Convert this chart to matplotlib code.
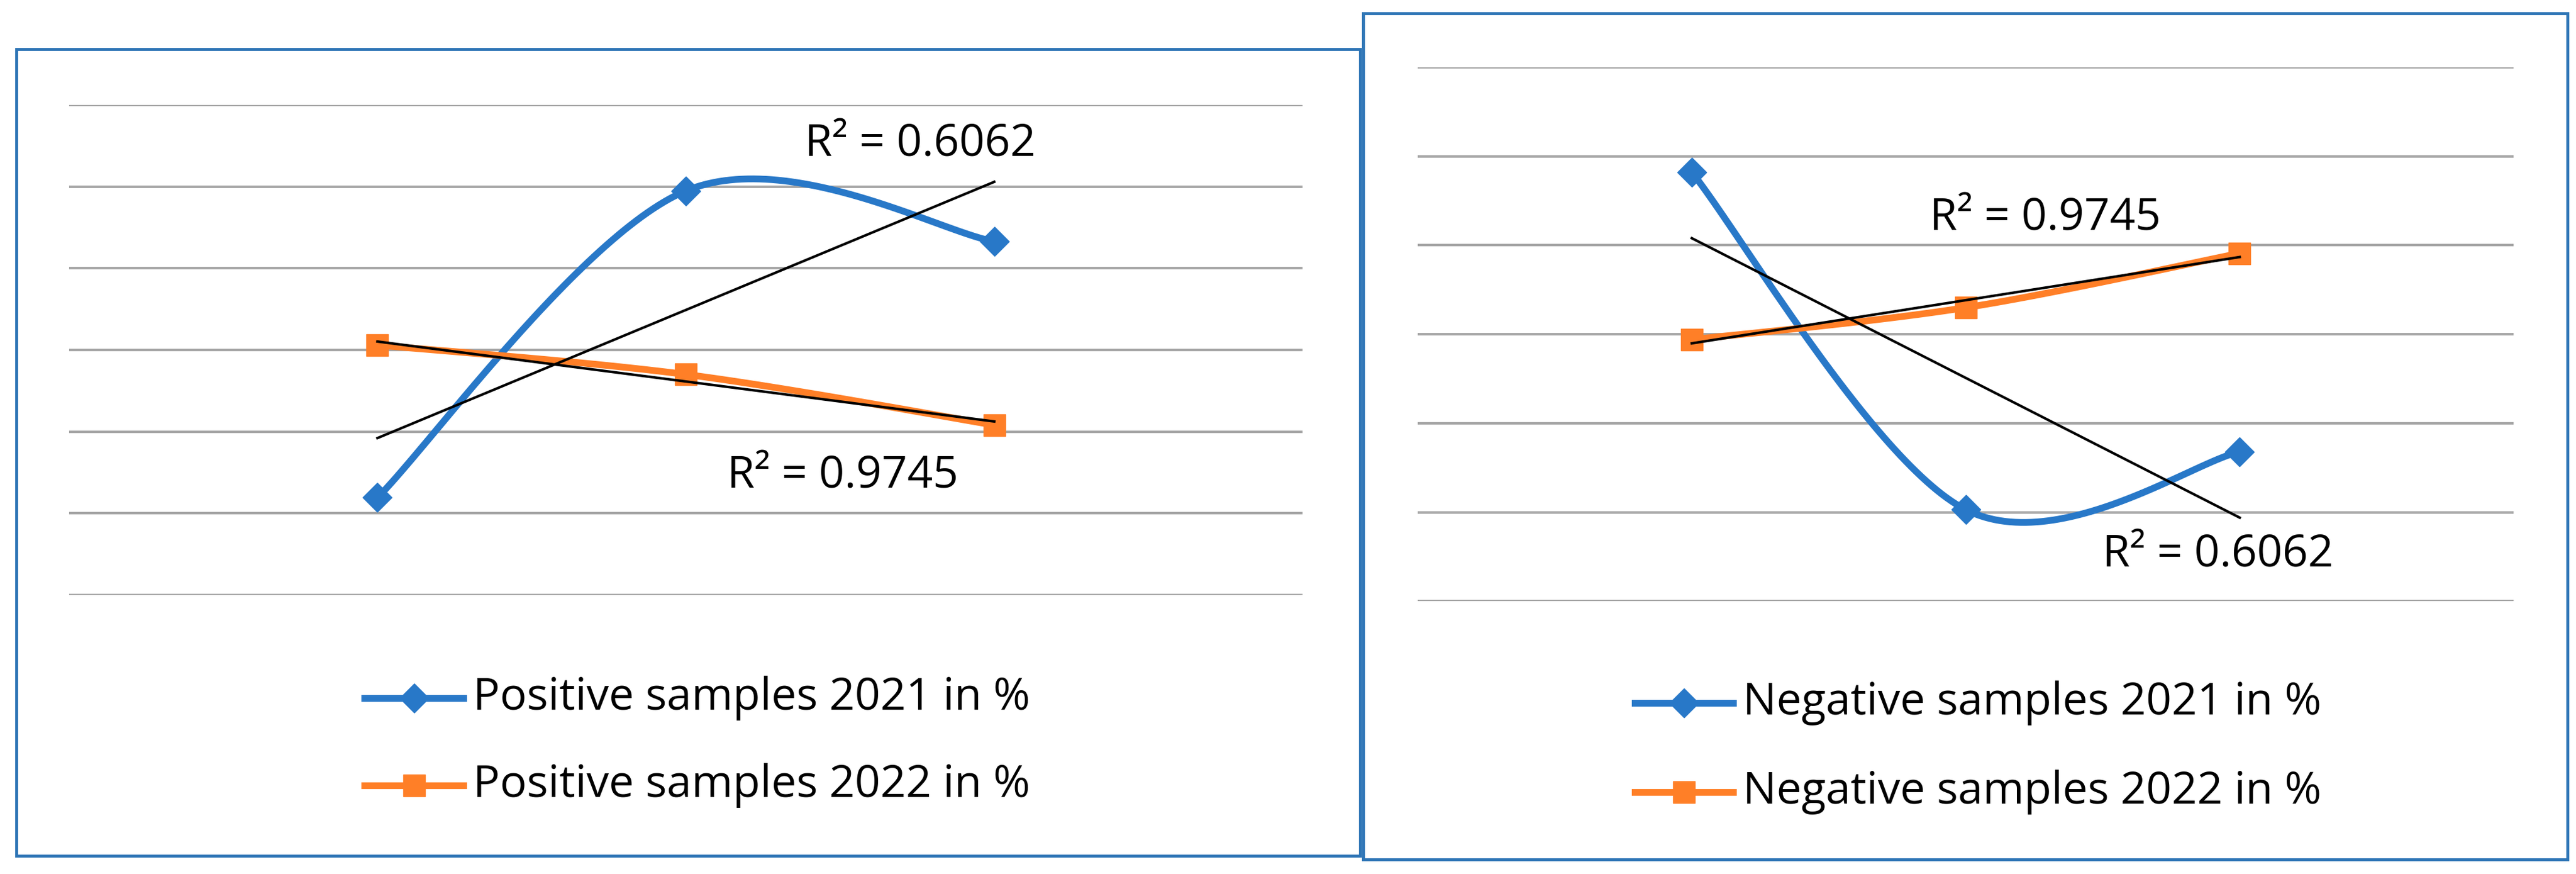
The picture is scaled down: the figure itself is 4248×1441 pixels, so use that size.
import numpy as np
import matplotlib
matplotlib.use("Agg")
import matplotlib.pyplot as plt
from matplotlib.lines import Line2D
from matplotlib.patches import Rectangle

x_pts = [1, 2, 3]
pos_2021 = [1.19, 4.95, 4.33]
pos_2022 = [3.06, 2.70, 2.08]
neg_2021 = [4.82, 1.03, 1.68]
neg_2022 = [2.94, 3.30, 3.91]
labels_left = ["Positive samples 2021 in %", "Positive samples 2022 in %"]
labels_right = ["Negative samples 2021 in %", "Negative samples 2022 in %"]
r2_labels = ["R² = 0.6062", "R² = 0.9745"]

BLUE = "#2878C8"
ORANGE = "#FF7F27"
BORDER = "#2E75B6"
GRID = "#A6A6A6"
FONT = "Open Sans"
FS = 53

def smooth(x, y, n=60):
    x = np.asarray(x, float); y = np.asarray(y, float)
    P = np.column_stack([x, y])
    P = np.vstack([P[0], P, P[-1]])
    out = []
    for i in range(1, len(P) - 2):
        p0, p1, p2, p3 = P[i-1], P[i], P[i+1], P[i+2]
        c1 = p1 + (p2 - p0) / 6
        c2 = p2 - (p3 - p1) / 6
        t = np.linspace(0, 1, n)[:, None]
        b = (1-t)**3*p1 + 3*(1-t)**2*t*c1 + 3*(1-t)*t**2*c2 + t**3*p2
        out.append(b)
    b = np.vstack(out)
    return b[:, 0], b[:, 1]

fig = plt.figure(figsize=(42.48, 14.41), dpi=100)
fig.add_artist(Rectangle((0.0064, 0.0207), 0.5216, 0.9229, transform=fig.transFigure,
                         fill=False, ec=BORDER, lw=3.5))
fig.add_artist(Rectangle((0.5293, 0.0169), 0.4675, 0.9681, transform=fig.transFigure,
                         fill=False, ec=BORDER, lw=3.5))

def panel(rect, s1, s2, labs, r2pos, legy, legx):
    ax = fig.add_axes(rect)
    ax.set_xlim(0, 4); ax.set_ylim(0, 6)
    for v in range(7):
        ax.axhline(v, color=GRID, lw=3, zorder=0)
    ax.axis("off")
    for s, c, m in [(s1, BLUE, "D"), (s2, ORANGE, "s")]:
        xs, ys = smooth(x_pts, s)
        ax.plot(xs, ys, color=c, lw=8, zorder=2, solid_capstyle="round")
        ax.plot(x_pts, s, ls="none", marker=m, color=c, ms=24 if m == "D" else 26, zorder=3)
        k, b0 = np.polyfit(x_pts, s, 1)
        xx = np.array([1, 3])
        ax.plot(xx, k*xx + b0, color="black", lw=3, zorder=4)
    for (tx, ty), t in zip(r2pos, r2_labels):
        ax.text(tx, ty, t, fontsize=FS, family=FONT, ha="center", va="center", transform=fig.transFigure)
    for yy, c, m, lab in zip(legy, [BLUE, ORANGE], ["D", "s"], labs):
        fig.add_artist(Line2D([legx, legx + 0.0383], [yy, yy], color=c, lw=8, transform=fig.transFigure))
        fig.add_artist(Line2D([legx + 0.0191], [yy], color=c, marker=m, ms=24 if m == "D" else 26,
                              transform=fig.transFigure))
        fig.text(legx + 0.042, yy, lab, fontsize=FS, family=FONT, va="center")

panel([0.0268, 0.3195, 0.4789, 0.5602], pos_2021, pos_2022, labels_left,
      [(560/1568, 1-88/532), (513/1568, 1-290/532)], [1-425/532, 1-478/532], 222/1568)
panel([0.5504, 0.312, 0.4254, 0.611], neg_2021, neg_2022, labels_right,
      [(1350/1568, 1-338/532), (1245/1568, 1-133/532)], [1-428/532, 1-482/532], 995/1568)

fig.savefig("out.png", dpi=100)
